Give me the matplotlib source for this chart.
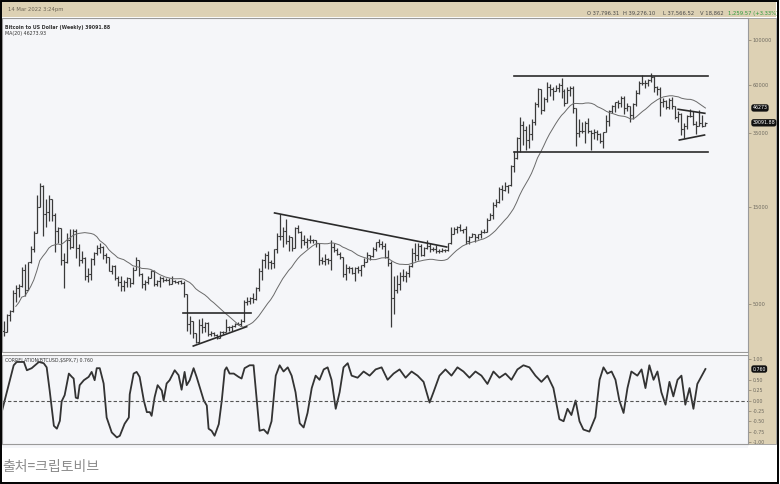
import numpy as np
import pandas as pd
import matplotlib
matplotlib.use("Agg")
import matplotlib.pyplot as plt
import matplotlib.transforms as mtransforms
from matplotlib.patches import Rectangle
from matplotlib.ticker import FixedLocator, NullLocator

# weekly BTC/USD bars, first bar = week of 18 Sep 2017, last = week of 14 Mar 2022
highs = [
    # 2017
    4120, 4470, 4650, 5860, 6200, 6300, 7600, 7880, 8100, 9700, 11450, 17200, 19800, 19200, 16500,
    # 2018
    17250, 16500, 14100, 12000, 11900, 8900, 11200, 11750, 11700, 11700, 9900, 9150, 8500,
    7550, 8450, 9000, 9750, 9990, 9650, 8880, 8500, 7750, 7760, 6900, 6850, 6550,
    6800, 6700, 7600, 8500, 8250, 7150, 6600, 6900, 7350, 7400, 6600, 6850, 6800,
    6700, 6700, 6900, 6550, 6500, 6550, 6500, 5600, 4350, 4150, 3600, 4200, 4250, 4100,
    # 2019
    4100, 3700, 3650, 3550, 3700, 3700, 4200, 3900, 3950, 4050, 4100, 4200,
    5250, 5450, 5450, 5650, 6050, 7500, 8350, 8900, 9100, 8200, 9300, 11250, 13850,
    12000, 13200, 11000, 10700, 12050, 12300, 11450, 10950, 10600, 10900, 10450, 10350, 10050,
    8500, 8800, 8450, 10350, 9950, 9500, 9050, 8500, 7850, 7700, 7600, 7650, 7700, 7750,
    # 2020
    8450, 9000, 8750, 9600, 10150, 10500, 10200, 9950, 9200, 8150, 6900, 6950, 7200,
    7450, 7300, 7750, 9450, 10050, 9950, 9850, 9600, 10400, 9950, 9600, 9800, 9300,
    9450, 9350, 10000, 12000, 12050, 12100, 12450, 11750, 12100, 10800, 11200, 11000, 11050,
    11600, 11750, 13350, 14050, 15950, 16500, 18800, 19400, 19900, 19400, 24250, 28400, 33300,
    # 2021
    41950, 40100, 37850, 38500, 41000, 49700, 58350, 57500, 52650, 61800, 60600, 58400, 60200,
    61250, 64850, 57500, 58450, 59600, 59500, 45800, 40900, 39500, 40000, 41300, 36000, 36600,
    35950, 34700, 35400, 42600, 45250, 48100, 49400, 50500, 52900, 52950, 48850, 47300, 49200,
    56550, 62900, 67000, 63700, 64300, 69000, 66300, 59200, 59000, 51950, 50800, 51900, 52100,
    # 2022
    47550, 44450, 43500, 38950, 42600, 45850, 44750, 39900, 45400, 42600, 39276.10,
]
lows = [
    3500, 3650, 4150, 4580, 5100, 5450, 6100, 5500, 5850, 8000, 9000, 11200, 15000, 10800, 12000,
    12800, 12800, 9050, 10000, 7800, 6000, 8000, 9300, 9400, 8400, 7700, 7950, 6550,
    6450, 6600, 7800, 8700, 8900, 8350, 7950, 7250, 7050, 6600, 6130, 5800, 5800,
    6100, 6070, 6250, 7350, 6900, 6000, 5900, 6250, 6700, 6150, 6150, 6100, 6450,
    6500, 6200, 6300, 6380, 6300, 6300, 5400, 3700, 3550, 3400, 3200, 3200, 3600, 3650,
    3500, 3500, 3500, 3350, 3400, 3550, 3650, 3700, 3700, 3850, 3950, 3900,
    4100, 4950, 5000, 5050, 5250, 5800, 6600, 7500, 7450, 7450, 7550, 8950, 10300,
    9600, 9850, 9100, 9100, 9400, 11200, 9500, 9800, 9400, 10050, 9950, 9600, 7750,
    7900, 7800, 7900, 7350, 9000, 8700, 8350, 6800, 6550, 7100, 7050, 6500, 7150, 6900,
    7650, 8050, 8250, 8500, 9150, 9600, 9300, 8450, 7700, 3850, 4450, 5700, 5850,
    6500, 6450, 6800, 7650, 8150, 8200, 8650, 8650, 9300, 9050, 9150, 8950, 8900,
    9050, 9050, 9150, 9900, 11050, 11150, 11500, 11150, 9900, 9900, 10650, 10150, 10450,
    10550, 11200, 11400, 12950, 13200, 15100, 15800, 16300, 18100, 17600, 19000, 22400, 25900,
    28000, 30400, 28850, 29250, 32300, 38000, 47000, 43000, 44950, 49300, 53250, 50400, 55900,
    55450, 52000, 47050, 48800, 53100, 43800, 30000, 33350, 34800, 31000, 34800, 28800, 32700,
    32050, 31100, 29300, 35200, 37650, 43600, 43950, 46400, 46850, 43000, 44800, 39600, 40800,
    47200, 54500, 59700, 57850, 59500, 62300, 55600, 53550, 42000, 46700, 45550, 45600, 45700,
    40600, 39650, 34000, 32950, 36300, 41700, 38000, 34350, 37600, 37200, 37566.52,
]
closes = [
    3650, 4400, 4600, 5700, 6000, 6150, 7400, 5900, 8050, 9300, 11200, 15000, 19100, 13900, 14150,
    16500, 13700, 11500, 11800, 8200, 8100, 10400, 9600, 11500, 9500, 8200, 8400, 6900,
    7000, 8300, 8900, 9400, 9600, 8700, 8500, 7300, 7700, 6700, 6450, 6150, 6400,
    6700, 6350, 7400, 8200, 7000, 6300, 6450, 6700, 7300, 6250, 6500, 6700, 6600,
    6600, 6300, 6500, 6450, 6480, 6350, 5600, 4000, 4150, 3600, 3250, 3950, 3850, 4050,
    3550, 3600, 3530, 3410, 3650, 3650, 3850, 3850, 3900, 4000, 4000, 4150,
    5100, 5150, 5350, 5280, 6000, 7250, 8200, 8750, 8050, 7950, 9300, 10850, 10800,
    11450, 10200, 10750, 9500, 11800, 11350, 10300, 10150, 10400, 10350, 10300, 10000, 8250,
    8150, 8300, 8200, 9550, 9200, 8800, 8500, 7050, 7550, 7500, 7100, 7500, 7400, 7750,
    8100, 8700, 8600, 9350, 10150, 9900, 9650, 8550, 8000, 5350, 5850, 6250, 6900,
    6900, 7150, 7700, 8900, 8750, 9700, 8700, 9450, 9650, 9350, 9300, 9100, 9100,
    9250, 9200, 9950, 11050, 11700, 11950, 11650, 11700, 10250, 10750, 11050, 10750, 11050,
    11350, 11350, 13050, 13750, 15450, 15950, 18400, 18200, 19150, 19250, 23850, 26250, 33000,
    38150, 36050, 32300, 34300, 39250, 48600, 57500, 45150, 51200, 59000, 57350, 55850, 58200,
    60000, 56200, 49000, 56650, 58250, 46400, 34700, 35700, 35800, 39100, 35550, 34700, 35300,
    34250, 31800, 35400, 39900, 44550, 47050, 49350, 48850, 51750, 46000, 47250, 42850, 48250,
    54700, 61550, 61300, 61300, 63300, 65500, 59000, 57250, 49400, 50100, 46700, 50800, 47300,
    41850, 43100, 36250, 37900, 42400, 42200, 38350, 37700, 38800, 37832.31, 39091.88,
]
first_open = 3690
last_open = 37796.31

# CORRELATION(BTCUSD,$SPX,7) (week index, value)
corr_week = [
    -0.7, 3.3, 4.3, 6.7, 7.7, 9.3, 11.7, 13.3, 14.3, 15.3, 16.7, 17.7, 18.7, 19.3, 20.3,
    21.7, 22.7, 23.3, 24.0, 24.7, 25.3, 26.7, 28.3, 29.3, 30.3, 31.0, 32.0, 33.3, 34.3,
    36.0, 37.7, 38.7, 40.3, 41.7, 42.0, 43.3, 44.3, 45.3, 46.7, 47.7, 48.7, 49.3, 50.3,
    51.3, 52.7, 53.3, 54.3, 55.3, 57.0, 58.3, 59.3, 60.3, 61.0, 62.0, 63.3, 64.3, 65.3,
    66.7, 67.7, 68.3, 69.3, 70.3, 71.7, 72.7, 73.7, 74.3, 75.3, 76.7, 78.3, 79.3, 80.3,
    82.0, 83.3, 84.3, 85.3, 86.7, 88.0, 89.3, 90.7, 92.0, 93.3, 94.7, 96.0, 97.3, 98.7,
    100.0, 101.3, 102.7, 104.0, 105.3, 106.7, 108.0, 109.3, 110.7, 112.0, 113.3, 114.7,
    116.0, 118.0, 120.0, 122.0, 124.0, 126.0, 128.0, 130.0, 132.0, 134.0, 136.0, 138.0,
    140.0, 142.0, 143.3, 145.3, 147.3, 149.3, 151.3, 153.3, 155.3, 157.3, 159.3, 161.3,
    163.3, 165.3, 167.3, 169.3, 171.3, 173.3, 175.3, 177.3, 179.3, 181.3, 183.3, 185.3,
    186.7, 188.0, 189.3, 190.7, 192.0, 193.3, 195.3, 197.3, 198.7, 200.0, 201.3, 202.7,
    204.0, 205.3, 206.7, 208.0, 209.3, 211.3, 212.7, 214.0, 215.3, 216.7, 218.0, 219.3,
    220.7, 222.0, 223.3, 224.7, 226.0, 227.3, 228.7, 230.0, 231.3, 234.0,
]
corr_value = [
    -0.28, 0.85, 0.93, 0.93, 0.73, 0.78, 0.93, 0.90, 0.80, 0.24, -0.61, -0.68, -0.49, -0.02, 0.13,
    0.65, 0.57, 0.53, 0.07, 0.05, 0.37, 0.49, 0.57, 0.69, 0.49, 0.78, 0.78, 0.41, -0.41,
    -0.77, -0.89, -0.85, -0.56, -0.41, 0.15, 0.65, 0.69, 0.57, 0.00, -0.28, -0.28, -0.37, 0.08,
    0.37, 0.24, 0.00, 0.41, 0.49, 0.73, 0.61, 0.26, 0.69, 0.37, 0.49, 0.78, 0.57, 0.33,
    0.00, -0.12, -0.68, -0.73, -0.85, -0.57, 0.00, 0.73, 0.80, 0.65, 0.65, 0.57, 0.53, 0.78,
    0.85, 0.85, 0.07, -0.73, -0.70, -0.80, -0.50, 0.60, 0.85, 0.70, 0.80, 0.60, 0.20, -0.55,
    -0.65, -0.30, 0.30, 0.60, 0.50, 0.75, 0.80, 0.50, -0.20, 0.20, 0.80, 0.90,
    0.60, 0.55, 0.70, 0.60, 0.75, 0.80, 0.50, 0.65, 0.75, 0.55, 0.70, 0.60,
    0.45, -0.05, 0.20, 0.60, 0.75, 0.60, 0.80, 0.70, 0.55, 0.70, 0.60, 0.40,
    0.70, 0.55, 0.65, 0.50, 0.75, 0.85, 0.80, 0.60, 0.45, 0.60, 0.30, -0.45,
    -0.50, -0.20, -0.35, 0.00, -0.50, -0.70, -0.75, -0.40, 0.50, 0.80, 0.65, 0.70,
    0.50, 0.00, -0.30, 0.30, 0.70, 0.60, 0.75, 0.30, 0.85, 0.50, 0.70, 0.20,
    -0.10, 0.45, 0.10, 0.50, 0.60, -0.10, 0.30, -0.20, 0.40, 0.76,
]

# hand-drawn trendlines (week index, price)
range_weeks = [170.3, 235.0]
range_top = 66500
range_bottom = 28100
tri_top_weeks, tri_top_prices = [224.9, 233.8], [45570, 43550]
tri_bot_weeks, tri_bot_prices = [225.3, 233.7], [32160, 34040]
down_weeks, down_prices = [90.3, 147.7], [14060, 9557]
base_weeks, base_price = [59.9, 82.3], 4506
rise_weeks, rise_prices = [63.2, 81.0], [3108, 3870]

price_ticks = [100000, 60000, 35000, 15000, 5000]
corr_ticks = [1.0, 0.5, 0.25, 0.0, -0.25, -0.5, -0.75, -1.0]

# ------------------------------------------------------------
closes = np.array(closes, dtype=float)
highs = np.array(highs, dtype=float)
lows = np.array(lows, dtype=float)
opens = np.concatenate([[first_open], closes[:-1]])
opens[-1] = last_open
highs = np.maximum(highs, np.maximum(opens, closes))
lows = np.minimum(lows, np.minimum(opens, closes))
weeks = np.arange(len(closes))
ma20 = pd.Series(closes).rolling(20, min_periods=1).mean()

W, H = 780, 484
fig = plt.figure(figsize=(W / 100, H / 100), dpi=100)
fig.patch.set_facecolor("white")

beige = "#ddd1b4"
chart_bg = "#f5f6f9"
bar_col = "#3a3a3a"


def fx(px):
    return px / W


def fy(py):
    return 1 - py / H


# header strip and right price strip (drawn behind the axes)
for r in [
    Rectangle((fx(2), fy(17)), fx(774), 15 / H, fc=beige, ec="none"),
    Rectangle((fx(748), fy(444)), fx(28), 426 / H, fc=beige, ec="#9a9a9a", lw=0.6),
    Rectangle((fx(2), fy(448)), fx(746), 4 / H, fc=chart_bg, ec="none"),
]:
    r.set_transform(fig.transFigure)
    r.set_zorder(-5)
    fig.patches.append(r)

ax = fig.add_axes([fx(2), fy(352), fx(746), 334 / H])
ax2 = fig.add_axes([fx(2), fy(444), fx(746), 89 / H])

# price bars
ax.vlines(weeks, lows, highs, color=bar_col, lw=0.9)
ax.hlines(opens, weeks - 0.45, weeks, color=bar_col, lw=0.8)
ax.hlines(closes, weeks, weeks + 0.45, color=bar_col, lw=0.8)
ax.plot(weeks[4:], ma20[4:], color="#6a6a6a", lw=0.7)

# trendlines
tl = dict(color="#2b2b2b", lw=1.2)
ax.plot(range_weeks, [range_top, range_top], **tl)
ax.plot(range_weeks, [range_bottom, range_bottom], **tl)
ax.plot(tri_top_weeks, tri_top_prices, **tl)
ax.plot(tri_bot_weeks, tri_bot_prices, **tl)
ax.plot(down_weeks, down_prices, **tl)
ax.plot(base_weeks, [base_price, base_price], **tl)
ax.plot(rise_weeks, rise_prices, **tl)

ax.set_yscale("log")
ax.set_ylim(2904, 128360)
ax.set_xlim(-0.6, 248.2)
ax.set_facecolor(chart_bg)
ax.set_xticks([])
ax.yaxis.set_ticks_position("right")
ax.yaxis.set_major_locator(FixedLocator(price_ticks))
ax.yaxis.set_minor_locator(NullLocator())
ax.set_yticklabels([str(t) for t in price_ticks])
ax.tick_params(axis="y", length=2, width=0.5, colors="#8a7f68", labelsize=3.6, pad=1.5,
               labelcolor="#6e6a60")
for s in ax.spines.values():
    s.set_color("#9a9a9a")
    s.set_linewidth(0.8)

trans = mtransforms.blended_transform_factory(ax.transAxes, ax.transData)
box = dict(boxstyle="round,pad=0.25,rounding_size=0.5", fc="#111111", ec="none")
ax.text(1.006, 46273, "46273", transform=trans, fontsize=3.4, color="white",
        va="center", ha="left", bbox=box, zorder=5, clip_on=False)
ax.text(1.006, 39091.88, "39091.88", transform=trans, fontsize=3.4, color="white",
        va="center", ha="left", bbox=box, zorder=5, clip_on=False)

ax.text(0.004, 0.978, "Bitcoin to US Dollar (Weekly) 39091.88", transform=ax.transAxes,
        fontsize=3.4, color="#333333", fontweight="bold", va="top")
ax.text(0.004, 0.96, "MA(20) 46273.93", transform=ax.transAxes,
        fontsize=3.4, color="#333333", va="top")

# correlation pane
ax2.plot(corr_week, corr_value, color="#333333", lw=1.3)
ax2.axhline(0, color="#555555", lw=0.8, ls=(0, (3, 2)))
ax2.set_ylim(-1.049, 1.098)
ax2.set_xlim(ax.get_xlim())
ax2.set_facecolor(chart_bg)
ax2.set_xticks([])
ax2.yaxis.set_ticks_position("right")
ax2.set_yticks(corr_ticks)
ax2.set_yticklabels([f"{t:.2f}" for t in corr_ticks])
ax2.tick_params(axis="y", length=2, width=0.5, colors="#8a7f68", labelsize=3.4, pad=1.5,
                labelcolor="#6e6a60")
for s in ax2.spines.values():
    s.set_color("#9a9a9a")
    s.set_linewidth(0.8)
trans2 = mtransforms.blended_transform_factory(ax2.transAxes, ax2.transData)
ax2.text(1.006, 0.76, "0.760", transform=trans2, fontsize=3.4, color="white",
         va="center", ha="left", bbox=box, zorder=5, clip_on=False)
ax2.text(0.004, 0.97, "CORRELATION(BTCUSD,\\$SPX,7) 0.760", transform=ax2.transAxes,
         fontsize=3.3, color="#333333", va="top")

# header texts
fig.text(fx(8), fy(10), "14 Mar 2022 3:24pm", fontsize=3.8, color="#6b6455", va="center")
hy = fy(13)
fig.text(fx(587), hy, "O 37,796.31", fontsize=3.8, color="#4a4a4a", va="center")
fig.text(fx(623), hy, "H 39,276.10", fontsize=3.8, color="#4a4a4a", va="center")
fig.text(fx(663), hy, "L 37,566.52", fontsize=3.8, color="#4a4a4a", va="center")
fig.text(fx(700), hy, "V 18,862", fontsize=3.8, color="#4a4a4a", va="center")
fig.text(fx(728), hy, "1,259.57 (+3.33%)", fontsize=3.8, color="#2e9a3a", va="center")

# caption
fig.text(fx(2), fy(467), "출처=크립토비브", fontsize=10, color="#8c8c8c", va="center",
         family=["Noto Sans CJK KR", "DejaVu Sans"])

# outer frame
frame = Rectangle((0.0015, 0.002), 0.996, 0.996, fill=False, ec="black", lw=1.4)
frame.set_transform(fig.transFigure)
frame.set_zorder(10)
fig.patches.append(frame)

fig.savefig("out.png", dpi=100)
